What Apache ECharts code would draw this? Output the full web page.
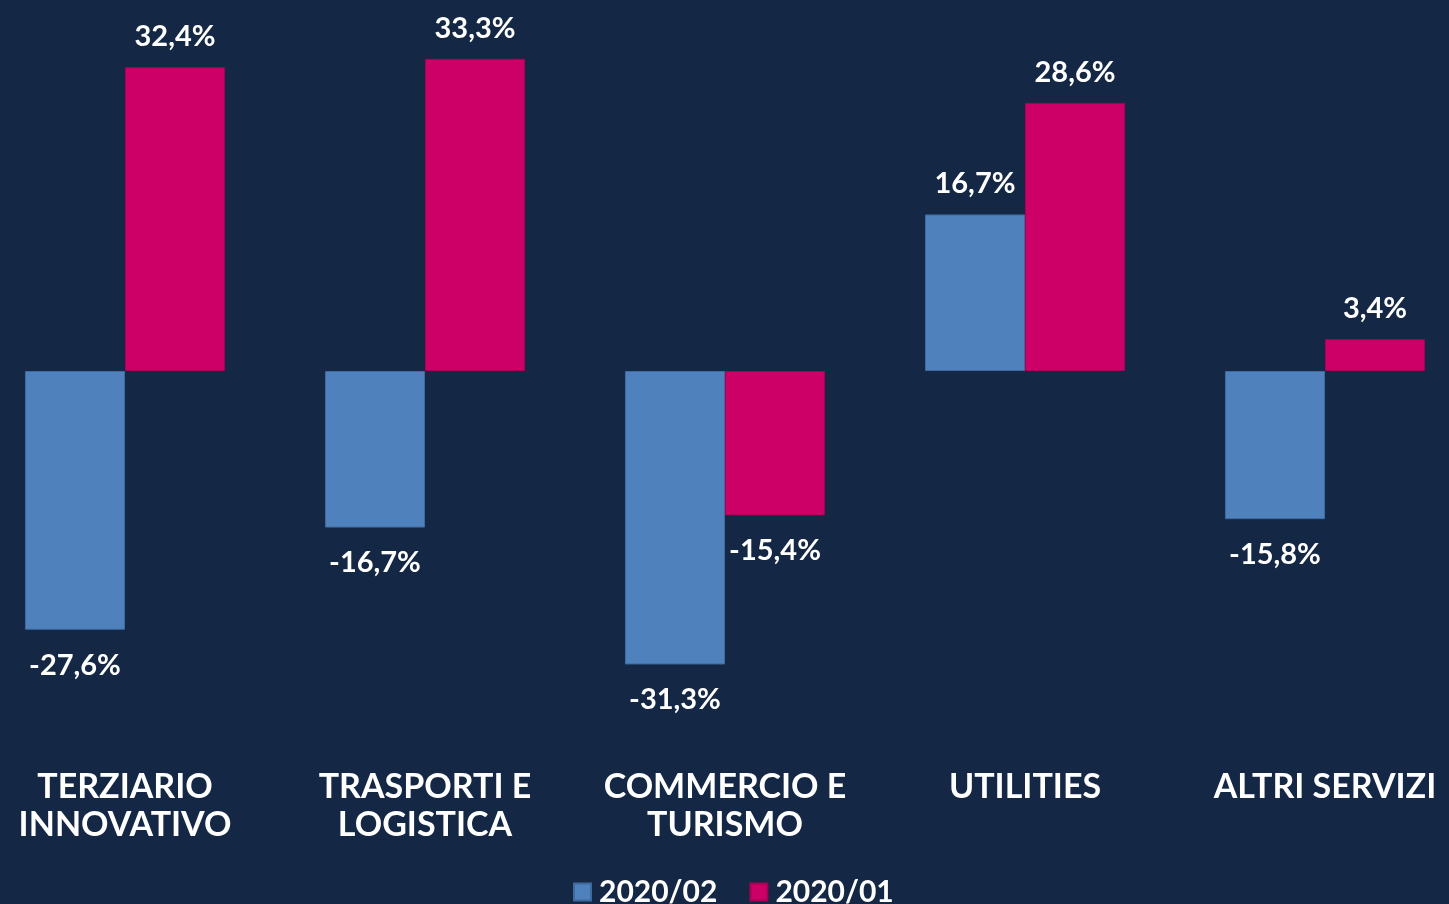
<!DOCTYPE html>
<html>
<head>
<meta charset="utf-8">
<style>
  html, body { margin: 0; padding: 0; background: #142846; overflow: hidden; width: 1449px; height: 904px; }
  /* il grafico deborda di 25px a sinistra come nell'originale */
  #main { position: absolute; left: -25px; top: -4px; width: 1500px; height: 908px; }
</style>
<script src="https://cdn.jsdelivr.net/npm/echarts@6/dist/echarts.min.js"></script>
</head>
<body>
<div id="main"></div>
<script>
// dati
var categories = ['TERZIARIO\nINNOVATIVO', 'TRASPORTI E\nLOGISTICA', 'COMMERCIO E\nTURISMO', 'UTILITIES', 'ALTRI SERVIZI'];
var seriesNames = ['2020/02', '2020/01'];
var values0202 = [-27.6, -16.7, -31.3, 16.7, -15.8];
var values0201 = [32.4, 33.3, -15.4, 28.6, 3.4];

var colors = ['#4f81bd', '#cc0066'];
var fontFam = 'Lato, "DejaVu Sans", sans-serif';

function fmt(v) {
  return v.toFixed(1).replace('.', ',') + '%';
}

// etichette sopra o sotto la barra a seconda del segno
function makeData(arr) {
  return arr.map(function(v) {
    return {
      value: v,
      label: {
        position: v >= 0 ? 'top' : 'bottom',
        distance: v >= 0 ? 16 : 21
      }
    };
  });
}

var myChart = echarts.init(document.getElementById('main'));

var labelStyle = {
  show: true,
  color: '#ffffff',
  fontSize: 29,
  fontWeight: 'bold',
  fontFamily: fontFam,
  formatter: function(p) { return fmt(p.value); }
};

var option = {
  backgroundColor: '#142846',
  animation: false,
  color: colors,
  grid: {
    left: 0,
    right: 0,
    top: 0,
    bottom: 158
  },
  legend: {
    data: seriesNames,
    top: 876,
    left: 593,
    itemWidth: 17,
    itemHeight: 17,
    itemGap: 32,
    icon: 'rect',
    textStyle: {
      color: '#ffffff',
      fontSize: 30,
      fontWeight: 'bold',
      fontFamily: fontFam,
      padding: [0, 0, 0, 3]
    }
  },
  xAxis: {
    type: 'category',
    data: categories,
    axisLine: { show: false, onZero: false },
    axisTick: { show: false },
    splitLine: { show: false },
    axisLabel: {
      color: '#ffffff',
      fontSize: 34,
      fontWeight: 'bold',
      fontFamily: fontFam,
      lineHeight: 38,
      margin: 22,
      interval: 0
    }
  },
  yAxis: {
    type: 'value',
    min: -40,
    max: 40,
    show: false,
    splitLine: { show: false }
  },
  series: [{
    name: seriesNames[0],
    type: 'bar',
    barGap: '0%',
    barCategoryGap: '33.3%',
    data: makeData(values0202),
    itemStyle: { color: colors[0], borderColor: '#3e6a9e', borderWidth: 1 },
    label: labelStyle
  }, {
    name: seriesNames[1],
    type: 'bar',
    data: makeData(values0201),
    itemStyle: { color: colors[1], borderColor: '#a80054', borderWidth: 1 },
    label: labelStyle
  }]
};

myChart.setOption(option);
</script>
</body>
</html>
